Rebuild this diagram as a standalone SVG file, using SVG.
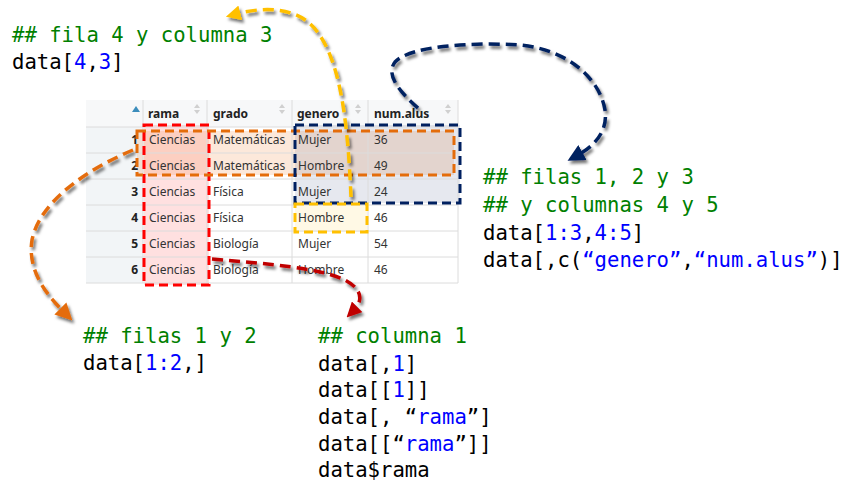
<svg xmlns="http://www.w3.org/2000/svg" width="847" height="501" viewBox="0 0 847 501">
<style>
.code{font-family:"DejaVu Sans Mono","Liberation Mono",monospace;font-size:20.6px;fill:#000}
.cm{fill:#008000}
.bl{fill:#0000ff}
.th{font-family:"Noto Sans","Open Sans",sans-serif;font-size:12px;font-weight:bold;fill:#222}
.td{font-family:"Noto Sans","Open Sans",sans-serif;font-size:12px;fill:#333}
.rn{font-family:"Noto Sans","Open Sans",sans-serif;font-size:12px;font-weight:bold;fill:#222;text-anchor:end}
.grid{stroke:#dcdcdc;stroke-width:1;fill:none}
.sort{fill:#d0d0d0}
.dash{fill:none;stroke-width:3;stroke-dasharray:9 5}
.arr{fill:none;stroke-width:3.5;stroke-dasharray:11 6}
</style>
<defs>
<filter id="sh" x="-20%" y="-20%" width="140%" height="140%">
<feDropShadow dx="2" dy="3" stdDeviation="1.5" flood-color="#000" flood-opacity="0.55"/>
</filter>
<marker id="my" viewBox="0 0 10 10" refX="3" refY="5" markerWidth="15" markerHeight="15" markerUnits="userSpaceOnUse" orient="auto"><path d="M0,0 L10,5 L0,10 z" fill="#ffc000"/></marker>
<marker id="mn" viewBox="0 0 10 10" refX="3" refY="5" markerWidth="17" markerHeight="17" markerUnits="userSpaceOnUse" orient="auto"><path d="M0,0 L10,5 L0,10 z" fill="#002060"/></marker>
<marker id="mo" viewBox="0 0 10 10" refX="3" refY="5" markerWidth="17" markerHeight="17" markerUnits="userSpaceOnUse" orient="auto"><path d="M0,0 L10,5 L0,10 z" fill="#e46c0a"/></marker>
<marker id="mr" viewBox="0 0 10 10" refX="3" refY="5" markerWidth="15" markerHeight="15" markerUnits="userSpaceOnUse" orient="auto"><path d="M0,0 L10,5 L0,10 z" fill="#c00000"/></marker>
</defs>
<rect width="847" height="501" fill="#fff"/>

<g id="table">
<rect x="86" y="100" width="372" height="183" fill="#fff"/>
<rect x="86" y="100" width="57" height="183" fill="#f2f5f7"/>
<rect x="86" y="100" width="372" height="27" fill="#f7f8f9"/>
<rect x="144" y="125" width="65" height="160" fill="#ff0000" fill-opacity="0.12"/>
<rect x="137" y="131" width="317" height="44" fill="#f08c46" fill-opacity="0.2"/>
<rect x="295" y="125" width="165" height="78" fill="#3c5082" fill-opacity="0.13"/>
<rect x="295" y="204" width="72" height="28" fill="#ffc000" fill-opacity="0.1"/>
<path class="grid" d="M86,127H458M86,153H458M86,179H458M86,205H458M86,231H458M86,257H458M86,283H458M143,100V283M207,100V283M292,100V283M368,100V283M458,100V283"/>
<path d="M132,112 L136,106 L140,112 z" fill="#3c8dbc"/>
<text class="th" x="148" y="118">rama</text>
<text class="th" x="213" y="118">grado</text>
<text class="th" x="297" y="118">genero</text>
<text class="th" x="374" y="118">num.alus</text>
<path class="sort" d="M194,108l3,-4l3,4zM194,110l3,4l3,-4z M279,108l3,-4l3,4zM279,110l3,4l3,-4z M355,108l3,-4l3,4zM355,110l3,4l3,-4z M445,108l3,-4l3,4zM445,110l3,4l3,-4z"/>
<text class="rn" x="138" y="144">1</text>
<text class="rn" x="138" y="170">2</text>
<text class="rn" x="138" y="196">3</text>
<text class="rn" x="138" y="222">4</text>
<text class="rn" x="138" y="248">5</text>
<text class="rn" x="138" y="274">6</text>
<text class="td" x="149" y="144">Ciencias</text>
<text class="td" x="149" y="170">Ciencias</text>
<text class="td" x="149" y="196">Ciencias</text>
<text class="td" x="149" y="222">Ciencias</text>
<text class="td" x="149" y="248">Ciencias</text>
<text class="td" x="149" y="274">Ciencias</text>
<text class="td" x="213" y="144">Matemáticas</text>
<text class="td" x="213" y="170">Matemáticas</text>
<text class="td" x="213" y="196">Física</text>
<text class="td" x="213" y="222">Física</text>
<text class="td" x="213" y="248">Biología</text>
<text class="td" x="213" y="274">Biología</text>
<text class="td" x="298" y="144">Mujer</text>
<text class="td" x="298" y="170">Hombre</text>
<text class="td" x="298" y="196">Mujer</text>
<text class="td" x="298" y="222">Hombre</text>
<text class="td" x="298" y="248">Mujer</text>
<text class="td" x="298" y="274">Hombre</text>
<text class="td" x="374" y="144">36</text>
<text class="td" x="374" y="170">49</text>
<text class="td" x="374" y="196">24</text>
<text class="td" x="374" y="222">46</text>
<text class="td" x="374" y="248">54</text>
<text class="td" x="374" y="274">46</text>
<rect class="dash" x="144" y="125" width="65" height="160" stroke="#ff0000"/>
<rect class="dash" x="137" y="131" width="317" height="44" stroke="#e46c0a"/>
<rect class="dash" x="295" y="125" width="165" height="78" stroke="#002060"/>
<rect class="dash" x="295" y="204" width="72" height="28" stroke="#ffc000"/>
</g>

<g id="note-fila4">
<text class="code cm" x="12" y="42">## fila 4 y columna 3</text>
<text class="code" x="12" y="69">data[<tspan class="bl">4</tspan>,<tspan class="bl">3</tspan>]</text>
</g>
<g id="note-filas123">
<text class="code cm" x="483" y="184">## filas 1, 2 y 3</text>
<text class="code cm" x="483" y="212">## y columnas 4 y 5</text>
<text class="code" x="483" y="240">data[<tspan class="bl">1:3</tspan>,<tspan class="bl">4:5</tspan>]</text>
<text class="code" x="483" y="267">data[,c(<tspan class="bl">“genero”</tspan>,<tspan class="bl">“num.alus”</tspan>)]</text>
</g>
<g id="note-filas12">
<text class="code cm" x="83" y="343">## filas 1 y 2</text>
<text class="code" x="83" y="370">data[<tspan class="bl">1:2</tspan>,]</text>
</g>
<g id="note-columna1">
<text class="code cm" x="318" y="343">## columna 1</text>
<text class="code" x="318" y="371">data[,<tspan class="bl">1</tspan>]</text>
<text class="code" x="318" y="397">data[[<tspan class="bl">1</tspan>]]</text>
<text class="code" x="318" y="424">data[, “<tspan class="bl">rama</tspan>”]</text>
<text class="code" x="318" y="451">data[[“<tspan class="bl">rama</tspan>”]]</text>
<text class="code" x="318" y="477">data$rama</text>
</g>

<g id="connectors" filter="url(#sh)">
<path class="arr" stroke="#ffc000" d="M351,197 C348,130 342,50 308,22 C288,6 258,8 236,14" marker-end="url(#my)"/>
<path class="arr" stroke="#002060" d="M418,108 C400,92 385,75 395,62 C410,46 470,42 520,45 C570,50 600,80 605,110 C608,130 596,145 578,155" marker-end="url(#mn)"/>
<path class="arr" stroke="#e46c0a" d="M133,150 C90,168 40,200 32,240 C27,272 48,296 64,312" marker-end="url(#mo)"/>
<path class="arr" stroke="#c00000" d="M212,259 C270,264 320,268 345,280 C364,290 362,302 354,310" marker-end="url(#mr)"/>
</g>
</svg>
